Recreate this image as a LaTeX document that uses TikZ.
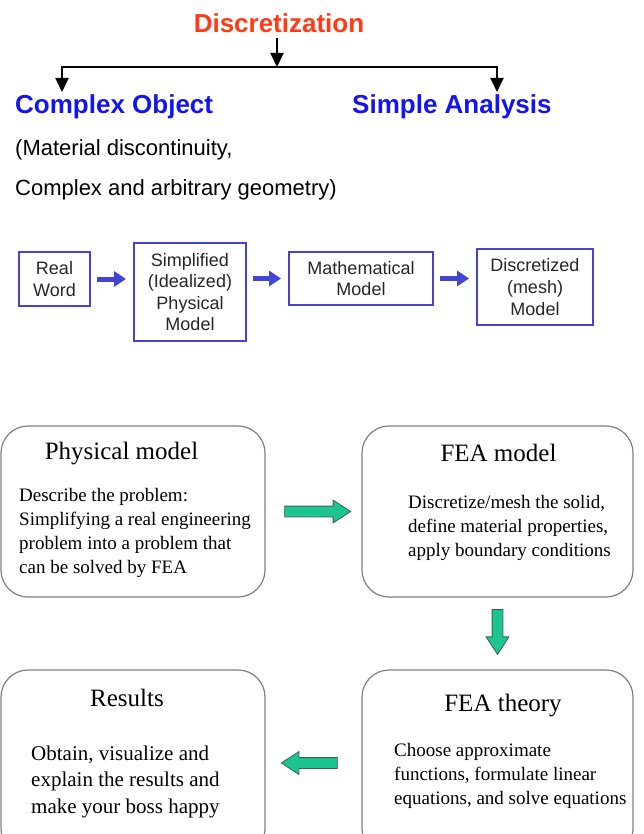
\documentclass[tikz,border=0pt]{standalone}
\usepackage{fontspec}
\setmainfont{Liberation Serif}
\setsansfont{Liberation Sans}
\usepackage{xcolor}
\definecolor{cRed}{HTML}{FF3A14}
\definecolor{cBlue}{HTML}{1414F0}
\definecolor{cBox}{HTML}{4343D4}
\definecolor{cPanel}{HTML}{808080}
\definecolor{cGreen}{HTML}{1CC490}
\definecolor{cGreenDark}{HTML}{3C5F55}
\usepackage{tikz}
\usetikzlibrary{positioning,arrows.meta,shapes.arrows,calc}
\tikzset{
  node-head/.style={font=\sffamily\bfseries\fontsize{26}{30}\selectfont,inner sep=0pt},
  node-note/.style={font=\sffamily\fontsize{22}{26}\selectfont,inner sep=0pt,anchor=base west},
  node-box/.style={draw=cBox,line width=2pt,align=center,inner sep=0pt,
    font=\sffamily\fontsize{18}{21.6}\selectfont,text=black!85},
  node-panel/.style={draw=cPanel,line width=1.2pt,rounded corners=27pt},
  node-title/.style={font=\fontsize{25}{30}\selectfont,inner sep=0pt,anchor=base},
  % base west of a multi-line node = baseline of its last line
  node-body/.style={font=\fontsize{19}{24}\selectfont,inner sep=0pt,align=left,anchor=base west},
  arrow-black/.style={-{Triangle[length=14pt,width=13pt]},line width=2pt},
  arrow-blue/.style={-{Triangle[length=12pt,width=15pt]},line width=5pt,draw=cBox,
    shorten <=6pt,shorten >=7pt},
  arrow-block/.style={single arrow,draw=cGreenDark,fill=cGreen,line width=0.8pt,
    minimum height=66pt,inner sep=5pt,single arrow head extend=6pt,single arrow tip angle=66},
}

\begin{document}
\begin{tikzpicture}[x=1pt,y=-1pt]
  \useasboundingbox (0,0) rectangle (644,834);
  \clip (0,0) rectangle (644,834);
  % top: discretization split
  \node[node-head,text=cRed,anchor=base] (disc) at (279,33) {Discretization};
  \coordinate (split) at (277,67);
  \coordinate (lft) at (62,92);
  \coordinate (rgt) at (497,92);
  \draw[arrow-black,shorten <=5pt] (disc.south -| split) -- (split);
  \draw[arrow-black] (split) -| (lft);
  \draw[arrow-black] (split) -| (rgt);
  \node[node-head,text=cBlue,anchor=base west] (cobj) at (15,114) {Complex Object};
  \node[node-head,text=cBlue,anchor=base west] (sana) at (352,114) {Simple Analysis};
  \node[node-note] (mat) at (15,156) {(Material discontinuity,};
  \node[node-note] (geo) at (15,196) {Complex and arbitrary geometry)};

  % flow row
  \node[node-box,minimum width=71pt,minimum height=54pt]  (real) at (54.5,279) {Real\\Word};
  \node[node-box,minimum width=112pt,minimum height=98pt] (simp) at (190,292) {Simplified\\(Idealized)\\Physical\\Model};
  \node[node-box,minimum width=144pt,minimum height=53pt] (math) at (361,278.5) {Mathematical\\Model};
  \node[node-box,minimum width=116pt,minimum height=76pt] (mesh) at (535,287) {Discretized\\(mesh)\\Model};
  \draw[arrow-blue] (real.east) -- (real.east -| simp.west);
  \draw[arrow-blue] (simp.east |- math.west) -- (math.west);
  \draw[arrow-blue] (math.east) -- (math.east -| mesh.west);

  % panels
  \node[node-panel,minimum width=264pt,minimum height=171pt] (phys) at (133,511.5) {};
  \node[node-panel,minimum width=271pt,minimum height=171pt] (feam) at (497.5,511.5) {};
  \node[node-panel,minimum width=271pt,minimum height=186pt] (feat) at (497.5,763) {};
  \node[node-panel,minimum width=264pt,minimum height=186pt] (res)  at (133,763) {};

  \node[node-title] (phys-t) at (121.5,459) {Physical model};
  \node[node-body]  (phys-b) at (19,573) {Describe the problem:\\Simplifying a real engineering\\problem into a problem that\\can be solved by FEA};
  \node[node-title] (feam-t) at (498.5,461) {FEA model};
  \node[node-body]  (feam-b) at (408,556) {Discretize/mesh the solid,\\define material properties,\\apply boundary conditions};
  \node[node-title] (feat-t) at (503,711) {FEA theory};
  \node[node-body]  (feat-b) at (394,804) {Choose approximate\\functions, formulate linear\\equations, and solve equations};
  \node[node-title] (res-t) at (127,706) {Results};
  \node[node-body,font=\fontsize{21}{26.5}\selectfont] (res-b) at (31,813) {Obtain, visualize and\\explain the results and\\make your boss happy};

  \path (phys) -- node[arrow-block] {} (feam);
  \path (feam) -- node[arrow-block,pos=0.42,minimum height=45pt,shape border rotate=270] {} (feat);
  \path (feat) -- node[arrow-block,minimum height=56pt,shape border rotate=180] {} (res);
\end{tikzpicture}
\end{document}
